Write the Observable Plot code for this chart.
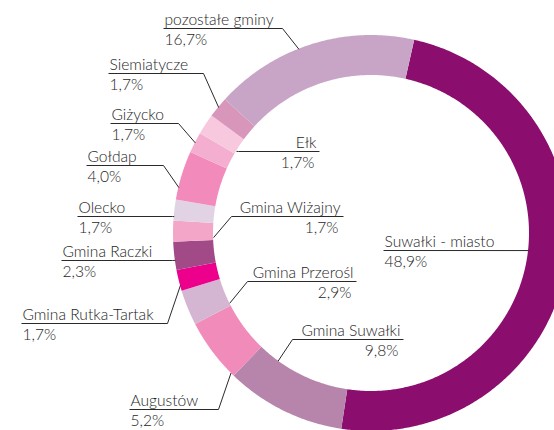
<!DOCTYPE html>
<html>
<head>
<meta charset="utf-8">
<script src="https://cdn.jsdelivr.net/npm/d3@7"></script>
<script src="https://cdn.jsdelivr.net/npm/@observablehq/plot@0.6"></script>
<style>
  html, body { margin: 0; padding: 0; background: #fff; }
  #chart svg { display: block; }
</style>
</head>
<body>
<div id="chart"></div>
<script>
// ---- data (clockwise from the top-right) ----
const names = [
  "Suwałki - miasto", "Gmina Suwałki", "Augustów", "Gmina Przerośl",
  "Gmina Rutka-Tartak", "Gmina Raczki", "Gmina Wiżajny", "Olecko",
  "Gołdap", "Giżycko", "Ełk", "Siemiatycze", "pozostałe gminy"
];
const shares = [48.9, 9.8, 5.2, 2.9, 1.7, 2.3, 1.7, 1.7, 4.0, 1.7, 1.7, 1.7, 16.7];
const colors = [
  "#8b0e6f", "#b784ab", "#f18bba", "#d5b6d2",
  "#ec008c", "#a24a87", "#f4a6c9", "#e2d3e4",
  "#f28bbc", "#f4aecf", "#f8c8de", "#d796ba", "#c8a5c7"
];

// ---- layout ----
const W = 554, H = 430;
const CX = 371, CY = 233;        // donut centre in pixels
const R_OUT = 198, R_IN = 158;
const START = 12.6;              // degrees clockwise from 12 o'clock
const FONT = "Lato, 'Open Sans', sans-serif";

// label placement (pixels): underline from x0 to x1 at y, leader to ring at angle
const labelLayout = [
  {name: "pozostałe gminy",    anchor: "start", x0: 163, x1: 282, y: 28,  angle: 338.5, ring: "out"},
  {name: "Siemiatycze",        anchor: "start", x0: 108, x1: 203, y: 73,  angle: 309.5, ring: "out"},
  {name: "Giżycko",            anchor: "start", x0: 110, x1: 178, y: 123, angle: 297.2, ring: "out"},
  {name: "Gołdap",             anchor: "start", x0: 86,  x1: 163, y: 165, angle: 283.4, ring: "out"},
  {name: "Olecko",             anchor: "start", x0: 77,  x1: 172, y: 216, angle: 274.9, ring: "out"},
  {name: "Gmina Raczki",       anchor: "start", x0: 61,  x1: 172, y: 260, angle: 262.2, ring: "out"},
  {name: "Gmina Rutka-Tartak", anchor: "start", x0: 21,  x1: 167, y: 323, angle: 254.8, ring: "out"},
  {name: "Augustów",           anchor: "start", x0: 129, x1: 218, y: 409, angle: 225.2, ring: "out"},
  {name: "Ełk",                anchor: "end",   x0: 238, x1: 319, y: 151, angle: 301.3, ring: "in"},
  {name: "Gmina Wiżajny",      anchor: "end",   x0: 231, x1: 343, y: 216, angle: 268.5, ring: "in"},
  {name: "Gmina Przerośl",     anchor: "end",   x0: 247, x1: 356, y: 281, angle: 243.8, ring: "in"},
  {name: "Gmina Suwałki",      anchor: "end",   x0: 292, x1: 403, y: 339, angle: 216.2, ring: "in"},
  {name: "Suwałki - miasto",   anchor: "start", x0: 383, x1: null, y: 250, angle: 96.2, ring: "in"}
];

// ---- slices ----
const total = d3.sum(shares);
let acc = START;
const slices = names.map((name, i) => {
  const a0 = acc, a1 = acc + 360 * shares[i] / total;
  acc = a1;
  return {name, value: shares[i], a0, a1};
});
const rad = d => d * Math.PI / 180;
const arcPts = slices.flatMap(s => {
  const n = Math.max(2, Math.ceil((s.a1 - s.a0) / 0.5));
  return d3.range(n + 1).map(k => {
    const a = rad(s.a0 + (s.a1 - s.a0) * k / n);
    return {
      name: s.name,
      x1: R_IN * Math.sin(a), y1: R_IN * Math.cos(a),
      x2: R_OUT * Math.sin(a), y2: R_OUT * Math.cos(a)
    };
  });
});

// ---- labels ----
const px = x => x - CX, py = y => CY - y;
const fmt = v => v.toFixed(1).replace(".", ",") + "%";
const valueOf = Object.fromEntries(slices.map(s => [s.name, s.value]));
const leaders = labelLayout.flatMap(L => {
  const r = L.ring === "out" ? R_OUT : R_IN;
  const ring = {x: r * Math.sin(rad(L.angle)), y: r * Math.cos(rad(L.angle))};
  const a = {x: px(L.x0), y: py(L.y)};
  let pts;
  if (L.x1 == null) pts = [a, ring];
  else if (L.anchor === "start") pts = [a, {x: px(L.x1), y: py(L.y)}, ring];
  else pts = [ring, a, {x: px(L.x1), y: py(L.y)}];
  return pts.map(p => ({...p, name: L.name}));
});
const texts = labelLayout.map(L => ({
  name: L.name,
  pct: fmt(valueOf[L.name]),
  anchor: L.anchor,
  tx: L.anchor === "start" ? px(L.x0 + 1) : px(L.x1 - 3),
  px2: L.anchor === "start" ? px(L.x0 + 1) : px(L.x1 - 5),
  ny: py(L.y - 4),
  vy: py(L.y + 16)
}));
const left = texts.filter(t => t.anchor === "start");
const right = texts.filter(t => t.anchor === "end");
const textOpts = {fontFamily: FONT, fontWeight: 300, fontSize: 15.6, fill: "#1e1e1e", lineAnchor: "bottom"};

const chart = Plot.plot({
  width: W, height: H,
  margin: 0,
  style: {background: "#fff"},
  x: {domain: [-CX, W - CX], axis: null},
  y: {domain: [CY - H, CY], axis: null},
  color: {domain: names, range: colors, type: "ordinal"},
  marks: [
    Plot.area(arcPts, {x1: "x1", y1: "y1", x2: "x2", y2: "y2", z: "name", fill: "name", curve: "linear"}),
    Plot.line(leaders, {x: "x", y: "y", z: "name", stroke: "#2a2a2a", strokeWidth: 1, strokeLinejoin: "miter", strokeLinecap: "butt"}),
    Plot.text(left, {x: "tx", y: "ny", text: "name", textAnchor: "start", ...textOpts}),
    Plot.text(left, {x: "px2", y: "vy", text: "pct", textAnchor: "start", ...textOpts}),
    Plot.text(right, {x: "tx", y: "ny", text: "name", textAnchor: "end", ...textOpts}),
    Plot.text(right, {x: "px2", y: "vy", text: "pct", textAnchor: "end", ...textOpts})
  ]
});
document.getElementById("chart").appendChild(chart);
</script>
</body>
</html>
